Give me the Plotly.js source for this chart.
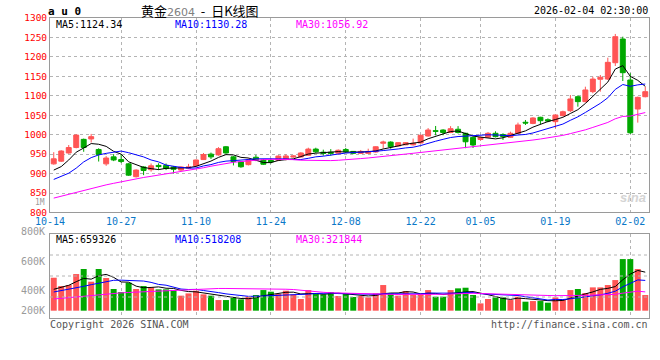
<!DOCTYPE html>
<html><head><meta charset="utf-8">
<script src="https://cdn.plot.ly/plotly-3.0.1.min.js"></script>
<style>html,body{margin:0;padding:0;background:#fff}</style>
</head><body><div id="chart" style="width:660px;height:360px"></div>
<script>
const dates = [
 '2025-10-14','2025-10-15','2025-10-16','2025-10-17','2025-10-20','2025-10-21','2025-10-22','2025-10-23','2025-10-24','2025-10-27',
 '2025-10-28','2025-10-29','2025-10-30','2025-10-31','2025-11-03','2025-11-04','2025-11-05','2025-11-06','2025-11-07','2025-11-10',
 '2025-11-11','2025-11-12','2025-11-13','2025-11-14','2025-11-17','2025-11-18','2025-11-19','2025-11-20','2025-11-21','2025-11-24',
 '2025-11-25','2025-11-26','2025-11-27','2025-11-28','2025-12-01','2025-12-02','2025-12-03','2025-12-04','2025-12-05','2025-12-08',
 '2025-12-09','2025-12-10','2025-12-11','2025-12-12','2025-12-15','2025-12-16','2025-12-17','2025-12-18','2025-12-19','2025-12-22',
 '2025-12-23','2025-12-24','2025-12-25','2025-12-26','2025-12-29','2025-12-30','2025-12-31','2026-01-05','2026-01-06','2026-01-07',
 '2026-01-08','2026-01-09','2026-01-12','2026-01-13','2026-01-14','2026-01-15','2026-01-16','2026-01-19','2026-01-20','2026-01-21',
 '2026-01-22','2026-01-23','2026-01-26','2026-01-27','2026-01-28','2026-01-29','2026-01-30','2026-02-02','2026-02-03','2026-02-04'];

const tickDates = ['2025-10-14','2025-10-27','2025-11-10','2025-11-24','2025-12-08','2025-12-22','2026-01-05','2026-01-19','2026-02-02'];
const tickText  = ['10-14','10-27','11-10','11-24','12-08','12-22','01-05','01-19','02-02'];
const priceTicks = [800,850,900,950,1000,1050,1100,1150,1200,1250,1300];

const open = [925,932,953,967,988,989,962,925,943,936,
 925,892,917,910,921,921,917,909,914,920,
 936,950,948,969,943,930,923,942,935,934,
 934.5,937.6,942.5,942.7,947,963,955,955,952.5,962,
 957,952,952,955.5,978,981,971,974,974,978.7,
 996.7,1010.3,1012,1005.7,1014,1003.6,993,987.7,993.6,1003.6,
 1000.5,993.3,1003.6,1032,1029,1044.8,1038.6,1033.5,1049,1061.7,
 1097.7,1085,1110.6,1142.5,1143,1185,1246,1140.6,1066,1097.7];
const high = [955,960,973.5,1001,990,1002,965,945,950,950,
 927,911,919,926,926.5,926,919,919,925,936,
 953,954,968,971,945,932,939,948,937,939,
 947,949.6,947,955,966.6,966.6,961.5,963,962,966,
 958,960.7,964,970,984.6,983,981,981,990,1000,
 1017,1022.4,1014,1022,1022,1005,995,995.4,1007,1008.8,
 1003.6,1007.7,1031,1037.8,1045,1046,1042,1052,1061.7,1102,
 1101,1123.4,1149,1153.5,1198,1259,1252,1158,1098,1123.4];
const low = [923,930,951,965,956,980,931,920,932,927,
 894,890,896,905,909,909,900,907,912,918,
 935,937.6,946,951,921,915,921,932,922,926,
 932,934,941,941,946,953,946,946,949.6,953,
 950,951,951,954,964,964,970,973,972,977,
 995,998.5,998.5,1004,1003,965.3,965.8,985,992,993,
 986.4,992,1002,1025,1027,1027.5,1032,1016.5,1047,1058,
 1072,1083,1106.5,1110.6,1140.6,1176.7,1138,1001.8,1031,1096];
const close = [938,958,967,999,967,995,949,940,935,931,
 896,909,908,920,918,913,911,917,917,935,
 949,943,964,953,931,917.5,935,934.5,924,930,
 945,945.3,945.3,953,963,956,952,952,960,956,
 952,957,957,969,981,969,979.5,979.5,978,998.5,
 1012,1008.8,1005.7,1015.4,1005.7,981.8,973.5,992.8,1003.6,995,
 995.4,1003.6,1025,1030,1043,1036,1035,1050.7,1059,1091.8,
 1085,1115,1143,1147.6,1186,1252,1159.4,1005,1096,1110.6];

const ma5 = [909,918,935,955,965.8,977.2,975.4,970.0,957.2,950.0,
 930.2,922.2,915.8,912.8,910.2,913.6,914.0,915.8,915.2,918.6,
 925.8,932.2,941.6,948.8,948.0,941.7,940.1,934.2,928.4,928.2,
 933.7,935.8,937.9,943.7,950.3,952.5,953.9,955.2,956.6,955.2,
 954.4,955.4,956.4,958.2,963.2,966.6,971.1,975.6,977.4,980.9,
 989.5,995.4,1000.6,1008.1,1009.5,1003.5,996.4,993.8,991.5,989.3,
 992.1,998.1,1004.5,1009.8,1019.4,1027.5,1033.8,1038.9,1044.7,1054.5,
 1064.3,1080.3,1098.8,1116.5,1135.3,1168.7,1177.6,1150.0,1139.7,1124.34];
const ma10 = [885,894,901,914,930,941,948,952,954,957.9,
 953.7,948.8,942.9,935.0,930.1,921.9,918.1,915.8,914.0,914.4,
 919.7,923.1,928.7,932.0,933.3,933.8,936.2,937.9,938.6,938.1,
 937.7,937.9,936.1,936.1,939.3,943.1,944.8,946.6,950.2,952.8,
 953.5,954.6,955.8,957.4,959.2,960.5,963.3,966.0,967.8,972.1,
 978.1,983.2,988.1,992.7,995.2,996.5,995.9,997.2,999.8,999.4,
 997.8,997.3,999.2,1000.6,1004.4,1009.8,1015.9,1021.7,1027.3,1037.0,
 1045.9,1057.1,1068.9,1080.6,1094.9,1116.5,1129.0,1124.4,1128.1,1130.28];
const ma30 = [837,842,847,852,857,862,867,871,875,879,
 883,887,890,893,896,899,902,905,908,911,
 915,919,923,926,929,931,933,935,936,936.8,
 937.0,936.6,935.9,934.4,934.2,932.9,933.0,933.4,934.3,935.1,
 937.0,938.6,940.2,941.8,943.9,945.8,948.1,950.2,952.2,954.3,
 956.4,958.6,960.0,962.1,964.6,966.7,968.0,969.9,972.6,974.7,
 976.4,978.4,981.0,983.6,986.3,988.9,991.7,995.0,998.3,1002.8,
 1007.2,1012.5,1018.7,1024.7,1031.5,1040.9,1046.9,1047.8,1051.7,1056.92];

// volume in thousands of lots
const volumeK = [564,422,439,627,713,496,713,559,371,319,
 479,371,422,399,365,365,353,257,296,342,
 279,257,182,182,228,194,239,268,353,325,
 285,342,279,200,353,296,279,319,251,296,
 234,251,228,296,439,296,257,336,268,279,
 353,239,239,353,382,393,268,125,200,228,
 228,182,239,154,165,165,137,228,182,353,
 371,302,399,399,439,524,883,883,713,268];
const vma5 = [366,394,434,496,553,539.4,597.6,621.6,570.4,491.6,
 488.2,419.8,392.4,398,407.2,384.4,380.8,347.8,327.2,322.6,
 305.4,286.2,271.2,248.4,225.6,208.6,205,222.2,256.4,275.8,
 294,314.6,316.8,286.2,291.8,294,281.4,289.4,299.6,288.2,
 275.8,270.2,252,261,289.6,302,303.2,324.8,319.2,287.2,
 298.6,295,275.6,292.6,313.2,321.2,327,304.2,273.6,242.8,
 209.8,192.6,215.4,206.2,193.6,181,172,169.8,175.4,213,
 254.2,287.2,321.4,364.8,382,412.6,528.8,625.6,688.4,659.3];
const vma10 = [320,342,365,394,417,445,468,496,520,522.3,
 513.8,508.7,507,484.2,449.4,436.3,400.3,370.1,362.6,364.9,
 344.9,333.5,309.5,287.8,274.1,257,245.6,246.7,252.4,250.7,
 251.3,259.8,269.5,271.3,283.8,294,298,303.1,292.9,290,
 284.9,275.8,270.7,280.3,288.9,288.9,286.7,288.4,290.1,288.4,
 300.3,299.1,300.2,305.9,300.2,309.9,311,289.9,283.1,278,
 265.5,259.8,259.8,239.9,218.2,195.4,182.3,192.6,190.8,203.3,
 217.6,229.6,245.6,270.1,297.5,333.4,408,473.5,526.6,518.2];
const vma30 = [200,212,225,240,255,268,280,290,298,305,
 312,318,324,330,336,342,348,355,362,370,
 376,379,380,380,380,380,380,380,380,379.3,
 370,367.3,362,347.8,335.8,329.1,314.6,306.6,302.6,301.9,
 293.7,289.7,283.2,279.8,282.3,280,276.8,279.4,278.5,276.4,
 278.8,278.2,280.1,285.8,291,297.6,298.6,293.8,288.7,285.5,
 283.6,278.2,276.9,275.4,269.1,264.7,260,257,254.7,256.6,
 261.1,262.8,268.5,272,272,279.6,300.4,318.7,333.5,321.8];

const UP = '#ff5555', DN = '#00a800';
const MONO = 'DejaVu Sans Mono';
const idx = dates.map((d, i) => i);
const volColors = close.map((c, i) => c >= open[i] ? UP : DN);
const tickVals = tickDates.map(d => { const i = dates.indexOf(d); return i === 0 ? -0.5 : i; });

const line = (y, color, xa, ya) => ({type:'scatter', mode:'lines', x: idx, y: y, xaxis: xa, yaxis: ya,
  line:{color: color, width: 1}, hoverinfo:'skip'});

const data = [
  {type:'candlestick', x: idx, open: open, high: high, low: low, close: close, xaxis:'x', yaxis:'y',
   increasing:{line:{color:UP, width:1}, fillcolor:UP},
   decreasing:{line:{color:DN, width:1}, fillcolor:DN},
   whiskerwidth:0, hoverinfo:'skip'},
  line(ma5, '#000000', 'x', 'y'),
  line(ma10, '#0000ff', 'x', 'y'),
  line(ma30, '#ff00ff', 'x', 'y'),
  {type:'bar', x: idx, y: volumeK, xaxis:'x2', yaxis:'y2', marker:{color: volColors, line:{width:0}}, hoverinfo:'skip'},
  line(vma5, '#000000', 'x2', 'y2'),
  line(vma10, '#0000ff', 'x2', 'y2'),
  line(vma30, '#ff00ff', 'x2', 'y2')
];

// pixel -> paper helpers for text placement (plot area 50..649 x 18..318)
const px = x => (x - 50) / 599;
const py = y => (318 - y) / 300;
const ann = (text, x, y, xanchor, color, size, family) => ({
  text: text, x: px(x), y: py(y), xref:'paper', yref:'paper', xanchor: xanchor, yanchor:'middle',
  showarrow:false, borderpad:0, font:{family: family || MONO, size: size || 10, color: color}
});

const grid = {showgrid:true, griddash:'dot', gridcolor:'#b4b4b4', gridwidth:1,
  showline:true, mirror:true, linecolor:'#9a9a9a', linewidth:1, zeroline:false, fixedrange:true, ticks:''};

const NB = '\u00a0';
const layout = {
  width:660, height:360, margin:{l:50, r:11, t:18, b:42, pad:0},
  paper_bgcolor:'#ffffff', plot_bgcolor:'#ffffff', showlegend:false,
  boxgap:0.34, boxgroupgap:0, bargap:0.2,
  xaxis: Object.assign({}, grid, {domain:[0,1], anchor:'y', range:[-0.5, 79.5], type:'linear',
    tickmode:'array', tickvals: tickVals, ticktext: tickText,
    tickfont:{family: MONO, size:10, color:'#0a78c8'}, rangeslider:{visible:false}}),
  yaxis: Object.assign({}, grid, {domain:[0.3517, 1], anchor:'x', range:[800, 1300],
    tickmode:'array', tickvals: priceTicks, tickfont:{family: MONO, size:9.5, color:'#ff0000'}}),
  xaxis2: Object.assign({}, grid, {domain:[0,1], anchor:'y2', range:[-0.5, 79.5], type:'linear',
    tickmode:'array', tickvals: tickVals, showticklabels:false}),
  yaxis2: Object.assign({}, grid, {domain:[0, 0.28], anchor:'x2', range:[-125, 1312],
    showgrid:false, showticklabels:false}),
  shapes: [0.25, 0.5, 0.75].map(f => ({type:'line', xref:'x2 domain', yref:'y2 domain',
    x0:0, x1:1, y0:f, y1:f, line:{color:'#b4b4b4', width:1, dash:'dot'}})),
  annotations: [
    ann('<b>a u 0</b>', 47, 12, 'left', '#000000', 11),
    ann('黄金<span style="color:#808080;font-size:11px;font-family:\'DejaVu Sans\'">2604</span>' + NB + NB + '-' + NB + NB + '日K线图', 200, 11, 'center', '#000000', 13, 'Noto Sans CJK SC'),
    ann('2026-02-04 02:30:00', 649, 11, 'right', '#000000', 10),
    ann('MA5:1124.34', 55, 24, 'left', '#000000', 10),
    ann('MA10:1130.28', 174, 24, 'left', '#0000ff', 10),
    ann('MA30:1056.92', 295, 24, 'left', '#ff00ff', 10),
    ann('MA5:659326', 55, 239, 'left', '#000000', 10),
    ann('MA10:518208', 174, 239, 'left', '#0000ff', 10),
    ann('MA30:321844', 295, 239, 'left', '#ff00ff', 10),
    ann('800K', 46, 231, 'right', '#9a9a9a', 10),
    ann('600K', 46, 261, 'right', '#9a9a9a', 10),
    ann('400K', 46, 290, 'right', '#9a9a9a', 10),
    ann('200K', 46, 310, 'right', '#9a9a9a', 10),
    ann('1M', 46, 202.8, 'right', '#9a9a9a', 8),
    ann('Copyright 2026 SINA.COM', 49, 324, 'left', '#555555', 10),
    ann('http://finance.sina.com.cn', 649, 324, 'right', '#555555', 10),
    ann('<i><b>sina</b></i>', 633, 197, 'center', '#d4d4d4', 13, 'Liberation Sans')
  ]
};

Plotly.newPlot('chart', data, layout, {displayModeBar:false, staticPlot:true});
</script>
</body></html>
